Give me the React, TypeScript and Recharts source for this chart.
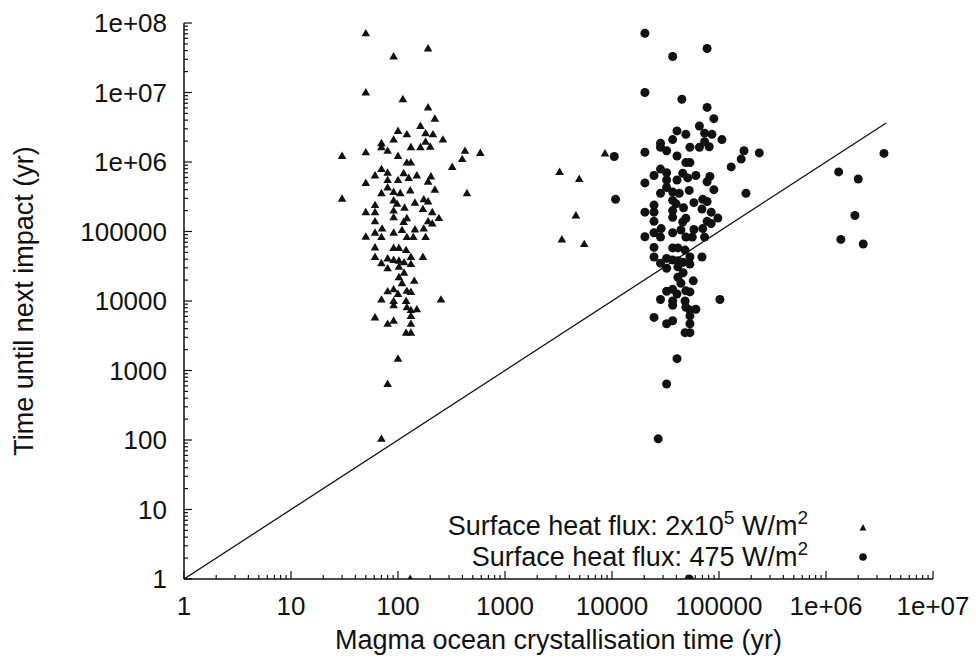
import React from "react";
import { ScatterChart, Scatter, XAxis, YAxis, Legend } from "recharts";

// log-log scatter: time to next impact vs magma ocean crystallisation time

const xMajorTicks = [1, 10, 100, 1000, 10000, 100000, 1e6, 1e7];
const xTickLabels = ["1", "10", "100", "1000", "10000", "100000", "1e+06", "1e+07"];
const yMajorTicks = [1, 10, 100, 1000, 10000, 100000, 1e6, 1e7, 1e8];
const yTickLabels = ["1", "10", "100", "1000", "10000", "100000", "1e+06", "1e+07", "1e+08"];

const xTitle = "Magma ocean crystallisation time (yr)";
const yTitle = "Time until next impact (yr)";

// surface heat flux 2x10^5 W/m^2 (triangles)
const highFlux: [number, number][] = [
  [50, 7.1e7], [191, 4.3e7], [91, 3.3e7], [50, 1.0e7], [111, 8.0e6], [191, 6.1e6],
  [221, 4.2e6], [162, 3.3e6], [100, 2.8e6], [121, 2.5e6], [181, 2.6e6], [212, 2.5e6],
  [263, 2.1e6], [91, 2.1e6], [70, 1.86e6], [70, 1.63e6], [80, 1.45e6], [132, 1.63e6],
  [162, 1.63e6], [181, 1.96e6], [200, 1.66e6], [50, 1.38e6], [30, 1.22e6], [100, 1.22e6],
  [423, 1.45e6], [588, 1.35e6], [398, 1.1e6], [121, 9.8e5], [132, 9.8e5], [321, 8.5e5],
  [70, 7.9e5], [61, 6.4e5], [80, 7.0e5], [113, 6.9e5], [150, 6.4e5], [203, 6.2e5],
  [50, 5.0e5], [80, 5.5e5], [100, 5.5e5], [126, 5.9e5], [191, 5.2e5], [3240, 7.2e5],
  [4940, 5.7e5], [8600, 1.33e6], [30, 2.96e5], [80, 4.3e5], [70, 3.55e5], [91, 3.7e5],
  [105, 3.55e5], [130, 3.9e5], [221, 4.0e5], [441, 3.55e5], [91, 2.8e5], [98, 2.5e5],
  [61, 2.4e5], [144, 2.6e5], [174, 2.9e5], [191, 2.7e5], [50, 1.9e5], [61, 1.9e5],
  [91, 2.0e5], [115, 2.2e5], [171, 2.1e5], [209, 1.9e5], [91, 1.6e5], [121, 1.55e5],
  [241, 1.56e5], [191, 1.4e5], [61, 1.4e5], [113, 1.37e5], [209, 1.3e5], [4600, 1.7e5],
  [71, 1.1e5], [61, 9.6e4], [91, 9.6e4], [109, 1.05e5], [144, 1.07e5], [174, 1.1e5],
  [50, 8.4e4], [70, 8.3e4], [121, 8.3e4], [139, 8.3e4], [181, 8.3e4], [3400, 7.7e4],
  [61, 5.9e4], [91, 5.8e4], [102, 5.8e4], [119, 5.4e4], [61, 4.3e4], [80, 4.1e4],
  [91, 3.9e4], [102, 3.8e4], [114, 3.6e4], [132, 4.3e4], [171, 4.3e4], [70, 3.5e4],
  [80, 2.95e4], [102, 3.1e4], [132, 3.4e4], [114, 2.55e4], [102, 2.2e4], [109, 1.8e4],
  [142, 1.95e4], [80, 1.38e4], [91, 1.47e4], [100, 1.26e4], [121, 1.4e4], [132, 1.35e4],
  [70, 1.05e4], [91, 1.0e4], [91, 8.7e3], [119, 1.0e4], [252, 1.05e4], [121, 8.1e3],
  [132, 7.4e3], [150, 7.6e3], [61, 5.8e3], [80, 4.7e3], [91, 5.2e3], [132, 6.1e3],
  [132, 4.7e3], [119, 3.5e3], [132, 3.5e3], [100, 1.48e3], [80, 640], [70, 104],
  [5500, 6.6e4], [130, 1],
];

// surface heat flux 475 W/m^2 (dots)
const lowFlux: [number, number][] = [
  [20300, 7.1e7], [77400, 4.3e7], [36900, 3.3e7], [20300, 1.0e7], [45000, 8.0e6], [77400, 6.1e6],
  [89500, 4.2e6], [65600, 3.3e6], [40500, 2.8e6], [49000, 2.5e6], [73300, 2.6e6], [85900, 2.5e6],
  [106500, 2.1e6], [36900, 2.1e6], [28400, 1.86e6], [28400, 1.63e6], [32400, 1.45e6], [53500, 1.63e6],
  [65600, 1.63e6], [73300, 1.96e6], [81000, 1.66e6], [20300, 1.38e6], [10500, 1.2e6], [40500, 1.22e6],
  [171300, 1.45e6], [238100, 1.35e6], [161200, 1.1e6], [49000, 9.8e5], [53500, 9.8e5], [130000, 8.5e5],
  [28400, 7.9e5], [24700, 6.4e5], [32400, 7.0e5], [45800, 6.9e5], [60800, 6.4e5], [82200, 6.2e5],
  [20300, 5.0e5], [32400, 5.5e5], [40500, 5.5e5], [51000, 5.9e5], [77400, 5.2e5], [1312000, 7.2e5],
  [2001000, 5.7e5], [3483000, 1.33e6], [10800, 2.9e5], [32400, 4.3e5], [28400, 3.55e5], [36900, 3.7e5],
  [42500, 3.55e5], [52700, 3.9e5], [89500, 4.0e5], [178600, 3.55e5], [36900, 2.8e5], [39700, 2.5e5],
  [24700, 2.4e5], [58300, 2.6e5], [70500, 2.9e5], [77400, 2.7e5], [20300, 1.9e5], [24700, 1.9e5],
  [36900, 2.0e5], [46600, 2.2e5], [69300, 2.1e5], [84600, 1.9e5], [36900, 1.6e5], [49000, 1.55e5],
  [97600, 1.56e5], [77400, 1.4e5], [24700, 1.4e5], [45800, 1.37e5], [84600, 1.3e5], [1863000, 1.7e5],
  [28800, 1.1e5], [24700, 9.6e4], [36900, 9.6e4], [44100, 1.05e5], [58300, 1.07e5], [70500, 1.1e5],
  [20300, 8.4e4], [28400, 8.3e4], [49000, 8.3e4], [56300, 8.3e4], [73300, 8.3e4], [1377000, 7.7e4],
  [24700, 5.9e4], [36900, 5.8e4], [41300, 5.8e4], [48200, 5.4e4], [24700, 4.3e4], [32400, 4.1e4],
  [36900, 3.9e4], [41300, 3.8e4], [46200, 3.6e4], [53500, 4.3e4], [69300, 4.3e4], [28400, 3.5e4],
  [32400, 2.95e4], [41300, 3.1e4], [53500, 3.4e4], [46200, 2.55e4], [41300, 2.2e4], [44100, 1.8e4],
  [57500, 1.95e4], [32400, 1.38e4], [36900, 1.47e4], [40500, 1.26e4], [49000, 1.4e4], [53500, 1.35e4],
  [28400, 1.05e4], [36900, 1.0e4], [36900, 8.7e3], [48200, 1.0e4], [102000, 1.05e4], [49000, 8.1e3],
  [53500, 7.4e3], [60800, 7.6e3], [24700, 5.8e3], [32400, 4.7e3], [36900, 5.2e3], [53500, 6.1e3],
  [53500, 4.7e3], [48200, 3.5e3], [53500, 3.5e3], [40500, 1.48e3], [32400, 640], [27000, 104],
  [2228000, 6.6e4], [52700, 1],
];

// y = x reference line
const equalTime: [number, number][] = [[1, 1], [3.65e6, 3.65e6]];

const FONT = "'Liberation Sans', Arial, Helvetica, sans-serif";
const INK = "#111";

const toPoints = (arr: [number, number][]) => arr.map(([x, y]) => ({ x, y }));

// majors plus 2..9 minors in every decade
const withMinors = (majors: number[]) =>
  majors.flatMap((d, i) => (i === majors.length - 1 ? [d] : [1, 2, 3, 4, 5, 6, 7, 8, 9].map((m) => d * m)));

const xTicks = withMinors(xMajorTicks);
const yTicks = withMinors(yMajorTicks);

const MAJOR = 8;
const MINOR = 4;

function BottomTick(props: any) {
  const { x, y, payload } = props;
  const i = xMajorTicks.indexOf(payload.value);
  return (
    <g>
      <line x1={x} y1={y} x2={x} y2={y - (i >= 0 ? MAJOR : MINOR)} stroke={INK} strokeWidth={1.2} />
      {i >= 0 && (
        <text x={x} y={y + 36} textAnchor="middle" fontSize={26} fontFamily={FONT} fill={INK}>
          {xTickLabels[i]}
        </text>
      )}
    </g>
  );
}

function TopTick(props: any) {
  const { x, y, payload } = props;
  const major = xMajorTicks.includes(payload.value);
  return <line x1={x} y1={y} x2={x} y2={y + (major ? MAJOR : MINOR)} stroke={INK} strokeWidth={1.2} />;
}

function LeftTick(props: any) {
  const { x, y, payload } = props;
  const i = yMajorTicks.indexOf(payload.value);
  return (
    <g>
      <line x1={x} y1={y} x2={x + (i >= 0 ? MAJOR : MINOR)} y2={y} stroke={INK} strokeWidth={1.2} />
      {i >= 0 && (
        <text x={x - 17} y={y + 9} textAnchor="end" fontSize={26} fontFamily={FONT} fill={INK}>
          {yTickLabels[i]}
        </text>
      )}
    </g>
  );
}

function RightTick(props: any) {
  const { x, y, payload } = props;
  const major = yMajorTicks.includes(payload.value);
  return <line x1={x} y1={y} x2={x - (major ? MAJOR : MINOR)} y2={y} stroke={INK} strokeWidth={1.2} />;
}

const Triangle = (props: any) => {
  const { cx, cy } = props;
  return <polygon points={`${cx},${cy - 4.4} ${cx - 4.3},${cy + 3} ${cx + 4.3},${cy + 3}`} fill={INK} />;
};

const Dot = (props: any) => <circle cx={props.cx} cy={props.cy} r={4.5} fill={INK} />;

function LegendBox() {
  return (
    <svg width={976} height={659} style={{ position: "absolute", left: 0, top: 0 }}>
      <g fontFamily={FONT} fontSize={27} fill={INK}>
        <text x={808} y={535} textAnchor="end">
          Surface heat flux: 2x10
          <tspan dy={-11} fontSize={19}>5</tspan>
          <tspan dy={11}> W/m</tspan>
          <tspan dy={-11} fontSize={19}>2</tspan>
        </text>
        <text x={808} y={566} textAnchor="end">
          Surface heat flux: 475 W/m
          <tspan dy={-11} fontSize={19}>2</tspan>
        </text>
      </g>
      <polygon points="863,524 859.6,530.5 866.4,530.5" fill={INK} />
      <circle cx={863} cy={557} r={3.8} fill={INK} />
    </svg>
  );
}

export default function App() {
  return (
    <div style={{ width: 976, height: 659, position: "relative", background: "#fff" }}>
      <style>{"body{margin:0}"}</style>
      <ScatterChart width={976} height={659} margin={{ top: 23, right: 43, bottom: 0, left: 0 }}>
        <XAxis
          dataKey="x"
          type="number"
          scale="log"
          domain={[1, 1e7]}
          allowDataOverflow
          ticks={xTicks}
          interval={0}
          height={80}
          tickSize={0}
          tickMargin={0}
          tickLine={false}
          tick={<BottomTick />}
          axisLine={{ stroke: INK, strokeWidth: 1.5 }}
        />
        <XAxis
          xAxisId="top"
          orientation="top"
          dataKey="x"
          type="number"
          scale="log"
          domain={[1, 1e7]}
          allowDataOverflow
          ticks={xTicks}
          interval={0}
          height={0}
          tickSize={0}
          tickMargin={0}
          tickLine={false}
          tick={<TopTick />}
          axisLine={{ stroke: INK, strokeWidth: 1.5 }}
        />
        <YAxis
          dataKey="y"
          type="number"
          scale="log"
          domain={[1, 1e8]}
          allowDataOverflow
          ticks={yTicks}
          interval={0}
          width={184}
          tickSize={0}
          tickMargin={0}
          tickLine={false}
          tick={<LeftTick />}
          axisLine={{ stroke: INK, strokeWidth: 1.5 }}
          label={{
            value: yTitle,
            angle: -90,
            position: "insideLeft",
            content: () => (
              <text x={33} y={301} transform="rotate(-90 33 301)" textAnchor="middle" fontSize={27} fontFamily={FONT} fill={INK}>
                {yTitle}
              </text>
            ),
          }}
        />
        <YAxis
          yAxisId="right"
          orientation="right"
          dataKey="y"
          type="number"
          scale="log"
          domain={[1, 1e8]}
          allowDataOverflow
          ticks={yTicks}
          interval={0}
          width={0}
          tickSize={0}
          tickMargin={0}
          tickLine={false}
          tick={<RightTick />}
          axisLine={{ stroke: INK, strokeWidth: 1.5 }}
        />
        <Scatter
          name="Surface heat flux: 2x10^5 W/m^2"
          data={toPoints(highFlux)}
          shape={<Triangle />}
          isAnimationActive={false}
        />
        <Scatter
          name="Surface heat flux: 475 W/m^2"
          data={toPoints(lowFlux)}
          shape={<Dot />}
          isAnimationActive={false}
        />
        <Scatter
          name="equal"
          xAxisId="top"
          yAxisId="right"
          data={toPoints(equalTime)}
          line={{ stroke: INK, strokeWidth: 1.3 }}
          shape={() => <g />}
          legendType="none"
          isAnimationActive={false}
        />
        <Legend
          layout="vertical"
          align="center"
          verticalAlign="middle"
          wrapperStyle={{ left: 0, top: 0, width: 976, height: 659, pointerEvents: "none" }}
          content={() => <LegendBox />}
        />
      </ScatterChart>
      <div
        style={{
          position: "absolute",
          left: 184,
          width: 749,
          top: 625,
          textAlign: "center",
          fontFamily: FONT,
          fontSize: 27,
          color: INK,
        }}
      >
        {xTitle}
      </div>
    </div>
  );
}
